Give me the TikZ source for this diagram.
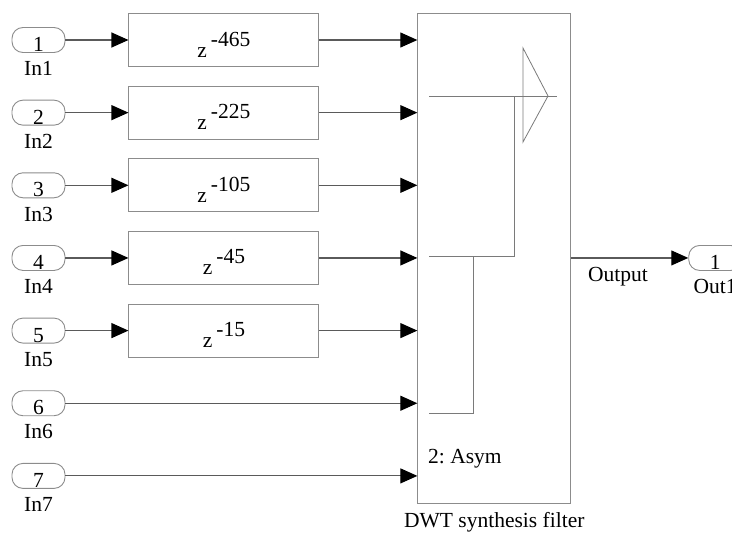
\documentclass[tikz,border=0pt]{standalone}
\usepackage{fontspec}
\setmainfont{Liberation Serif}
\usepackage{tikz}
\usetikzlibrary{arrows.meta, positioning}
\definecolor{simframe}{HTML}{8C8C8C}
\definecolor{simwire}{HTML}{5A5A5A}
\definecolor{simglyph}{HTML}{7A7A7A}
\frenchspacing

\begin{document}
\begin{tikzpicture}[
    x=1pt, y=-1pt,
    every node/.style={font=\fontsize{21.5}{24}\selectfont},
    portpill/.style={rectangle, rounded corners=11pt, draw=simframe, line width=0.9pt, minimum width=53pt, minimum height=25pt, inner sep=0pt},
    delaybox/.style={rectangle, draw=simframe, line width=0.9pt, minimum width=190pt, minimum height=53pt, inner sep=0pt},
    filterbox/.style={rectangle, draw=simframe, line width=0.9pt, minimum width=153pt, minimum height=490pt, inner sep=0pt},
    wire/.style={draw=simwire, line width=1.1pt, -{Triangle[length=17pt, width=15pt, black]}},
    glyph/.style={draw=simglyph, line width=0.8pt},
]
\useasboundingbox (0,0) rectangle (732,536);

% inports
\node[portpill] (in1) at (38.5,40) {\raisebox{-11.5pt}[0pt][0pt]{1}};
\node[portpill, below=46.75pt of in1] (in2) {\raisebox{-11.5pt}[0pt][0pt]{2}};
\node[portpill, below=46.75pt of in2] (in3) {\raisebox{-11.5pt}[0pt][0pt]{3}};
\node[portpill, below=46.75pt of in3] (in4) {\raisebox{-11.5pt}[0pt][0pt]{4}};
\node[portpill, below=46.75pt of in4] (in5) {\raisebox{-11.5pt}[0pt][0pt]{5}};
\node[portpill, below=46.75pt of in5] (in6) {\raisebox{-11.5pt}[0pt][0pt]{6}};
\node[portpill, below=46.75pt of in6] (in7) {\raisebox{-11.5pt}[0pt][0pt]{7}};
\node[below=5pt of in1] {In1};
\node[below=5pt of in2] {In2};
\node[below=5pt of in3] {In3};
\node[below=5pt of in4] {In4};
\node[below=5pt of in5] {In5};
\node[below=5pt of in6] {In6};
\node[below=5pt of in7] {In7};

% delays
\node[delaybox, right=63pt of in1] (d1) {\raisebox{-17pt}[0pt][0pt]{z\kern4pt\raisebox{11pt}{-465}}};
\node[delaybox, right=63pt of in2] (d2) {\raisebox{-17pt}[0pt][0pt]{z\kern4pt\raisebox{11pt}{-225}}};
\node[delaybox, right=63pt of in3] (d3) {\raisebox{-17pt}[0pt][0pt]{z\kern4pt\raisebox{11pt}{-105}}};
\node[delaybox, right=63pt of in4] (d4) {\raisebox{-17pt}[0pt][0pt]{z\kern4pt\raisebox{11pt}{-45}}};
\node[delaybox, right=63pt of in5] (d5) {\raisebox{-17pt}[0pt][0pt]{z\kern4pt\raisebox{11pt}{-15}}};

% synthesis filter
\node[filterbox, right=98pt of d4] (dwt) {};
\node[below=5pt of dwt] (dwtname) {DWT synthesis filter};
\node[anchor=base west, inner sep=0pt] (asym) at (428,463) {2: Asym};
\draw[glyph] (429,96) -- (557,96);
\draw[glyph] (523,48) -- (548,96) -- (523,142) -- cycle;
\draw[glyph] (429,256) -- (514,256) -- (514,96);
\draw[glyph] (429,413) -- (473,413) -- (473,256);

% outport
\node[portpill, right=117pt of dwt] (out1) {\raisebox{-11.5pt}[0pt][0pt]{1}};
\node[below=5pt of out1] {Out1};

\draw[wire] (in1) -- (d1);
\draw[wire] (in2) -- (d2);
\draw[wire] (in3) -- (d3);
\draw[wire] (in4) -- (d4);
\draw[wire] (in5) -- (d5);
\draw[wire] (d1) -- (d1 -| dwt.west);
\draw[wire] (d2) -- (d2 -| dwt.west);
\draw[wire] (d3) -- (d3 -| dwt.west);
\draw[wire] (d4) -- (d4 -| dwt.west);
\draw[wire] (d5) -- (d5 -| dwt.west);
\draw[wire] (in6) -- (in6 -| dwt.west);
\draw[wire] (in7) -- (in7 -| dwt.west);
\draw[wire] (dwt.east |- out1) -- node[pos=0.4, below=5pt] {Output} (out1);

\end{tikzpicture}
\end{document}
